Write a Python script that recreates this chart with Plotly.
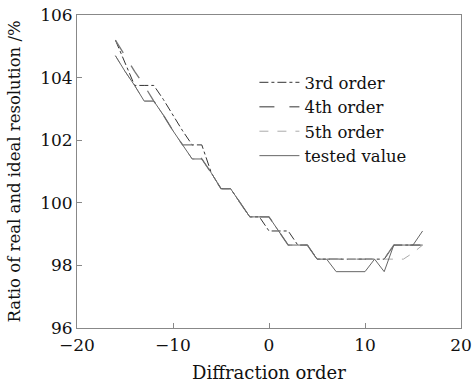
import plotly.graph_objects as go

orders = list(range(-16, 17))

third_order = [105.2, 104.5, 103.75, 103.75, 103.75, 103.3, 102.8, 102.3, 101.85, 101.85, 100.95,
               100.45, 100.45, 100.0, 99.55, 99.55, 99.1, 99.1, 99.1, 98.65, 98.65, 98.2,
               98.2, 98.2, 98.2, 98.2, 98.2, 98.2, 98.2, 98.65, 98.65, 98.65, 98.65]
fourth_order = [105.2, 104.7, 104.2, 103.75, 103.25, 102.8, 102.3, 101.85, 101.85, 101.4, 100.95,
                100.45, 100.45, 100.0, 99.55, 99.55, 99.55, 99.1, 98.65, 98.65, 98.65, 98.2,
                98.2, 98.2, 98.2, 98.2, 98.2, 98.2, 98.2, 98.65, 98.65, 98.65, 98.65]
fifth_order = [104.7, 104.2, 103.75, 103.25, 103.25, 102.8, 102.3, 101.85, 101.4, 101.4, 100.95,
               100.45, 100.45, 100.0, 99.55, 99.55, 99.55, 99.1, 98.65, 98.65, 98.65, 98.2,
               98.2, 98.2, 98.2, 98.2, 98.2, 98.2, 98.2, 98.2, 98.2, 98.4, 98.65]
tested_value = [104.7, 104.2, 103.75, 103.25, 103.25, 102.8, 102.3, 101.85, 101.4, 101.4, 100.95,
                100.45, 100.45, 100.0, 99.55, 99.55, 99.55, 99.1, 98.65, 98.65, 98.65, 98.2,
                98.2, 97.8, 97.8, 97.8, 97.8, 98.2, 97.8, 98.65, 98.65, 98.65, 99.1]

x_ticks = [-20, -10, 0, 10, 20]
x_tick_labels = ["\u221220", "\u221210", "0", "10", "20"]
y_ticks = [96, 98, 100, 102, 104, 106]
x_title = "Diffraction order"
y_title = "Ratio of real and ideal resolution /%"

FONT = "DejaVu Serif"

fig = go.Figure()
fig.add_trace(go.Scatter(x=orders, y=third_order, mode="lines", name="3rd order",
                         line=dict(color="#333333", width=1, dash="dashdot")))
fig.add_trace(go.Scatter(x=orders, y=fourth_order, mode="lines", name="4th order",
                         line=dict(color="#777777", width=1.3, dash="longdash")))
fig.add_trace(go.Scatter(x=orders, y=fifth_order, mode="lines", name="5th order",
                         line=dict(color="#aaaaaa", width=1, dash="dash")))
fig.add_trace(go.Scatter(x=orders, y=tested_value, mode="lines", name="tested value",
                         line=dict(color="#666666", width=1)))

axis_common = dict(showgrid=False, zeroline=False, showline=True, linecolor="#888888",
                   linewidth=1, mirror=True, ticks="inside", ticklen=5, tickcolor="#888888",
                   automargin=False,
                   tickfont=dict(family=FONT, size=17, color="#111111"))

fig.update_layout(
    width=476, height=384,
    margin=dict(l=77, r=15, t=15, b=56),
    paper_bgcolor="white", plot_bgcolor="white",
    font=dict(family=FONT, size=17, color="#111111"),
    xaxis=dict(range=[-20, 20], tickvals=x_ticks, ticktext=x_tick_labels, ticklabelstandoff=2,
               **axis_common),
    yaxis=dict(range=[96, 106], tickvals=y_ticks, **axis_common),
    legend=dict(x=0.462, y=0.84, xanchor="left", yanchor="top", bgcolor="rgba(0,0,0,0)",
                font=dict(family=FONT, size=16.5), tracegroupgap=0, itemwidth=40),
    showlegend=True,
    annotations=[
        dict(text=x_title, xref="paper", yref="paper", x=0.5, y=-0.1406,
             xanchor="center", yanchor="middle", showarrow=False,
             font=dict(family=FONT, size=18, color="#111111")),
        dict(text=y_title, xref="paper", yref="paper", x=-0.1615, y=0.5,
             xanchor="center", yanchor="middle", showarrow=False, textangle=-90,
             font=dict(family=FONT, size=16.5, color="#111111")),
    ],
)

fig.write_html("out.html")
